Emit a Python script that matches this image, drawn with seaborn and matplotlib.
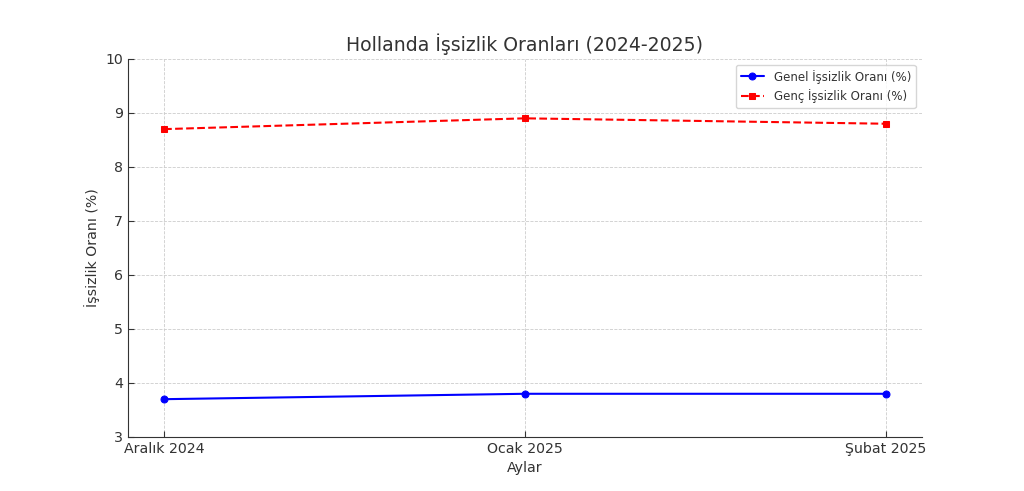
import numpy as np
import pandas as pd
import matplotlib
matplotlib.use("Agg")
import matplotlib.pyplot as plt
import seaborn as sns

# chart data
months = ["Aralık 2024", "Ocak 2025", "Şubat 2025"]
genel = [3.7, 3.8, 3.8]
genc = [8.7, 8.9, 8.8]

sns.set_style("ticks")
plt.rcParams['font.family'] = ['DejaVu Sans']
plt.rcParams['text.color'] = '#333333'
plt.rcParams['axes.labelcolor'] = '#333333'
plt.rcParams['xtick.color'] = '#333333'
plt.rcParams['ytick.color'] = '#333333'

df = pd.DataFrame({
    "Ay": months * 2,
    "Oran": genel + genc,
    "Seri": ["Genel İşsizlik Oranı (%)"] * 3 + ["Genç İşsizlik Oranı (%)"] * 3,
})

fig, ax = plt.subplots(figsize=(10.24, 4.91), dpi=100)

sns.lineplot(data=df[df.Seri == "Genel İşsizlik Oranı (%)"], x="Ay", y="Oran",
             color="blue", marker="o", markersize=5, markeredgecolor="blue",
             linewidth=1.5, label="Genel İşsizlik Oranı (%)", ax=ax, sort=False)
sns.lineplot(data=df[df.Seri == "Genç İşsizlik Oranı (%)"], x="Ay", y="Oran",
             color="red", marker="s", markersize=5, markeredgecolor="red",
             linestyle="--", linewidth=1.5, label="Genç İşsizlik Oranı (%)", ax=ax, sort=False)

ax.set_ylim(3, 10)
ax.set_title("Hollanda İşsizlik Oranları (2024-2025)", fontsize=13.6)
ax.set_xlabel("Aylar", fontsize=10.2)
ax.set_ylabel("İşsizlik Oranı (%)", fontsize=10.2)
ax.tick_params(axis="both", direction="in", labelsize=10.2, length=4)
ax.grid(True, linestyle="--", color="#cccccc", linewidth=0.6)
sns.despine(ax=ax)
ax.spines["left"].set_color("#333333")
ax.spines["bottom"].set_color("#333333")
ax.legend(loc="upper right", fontsize=8.5)

fig.savefig("out.png", dpi=100)
